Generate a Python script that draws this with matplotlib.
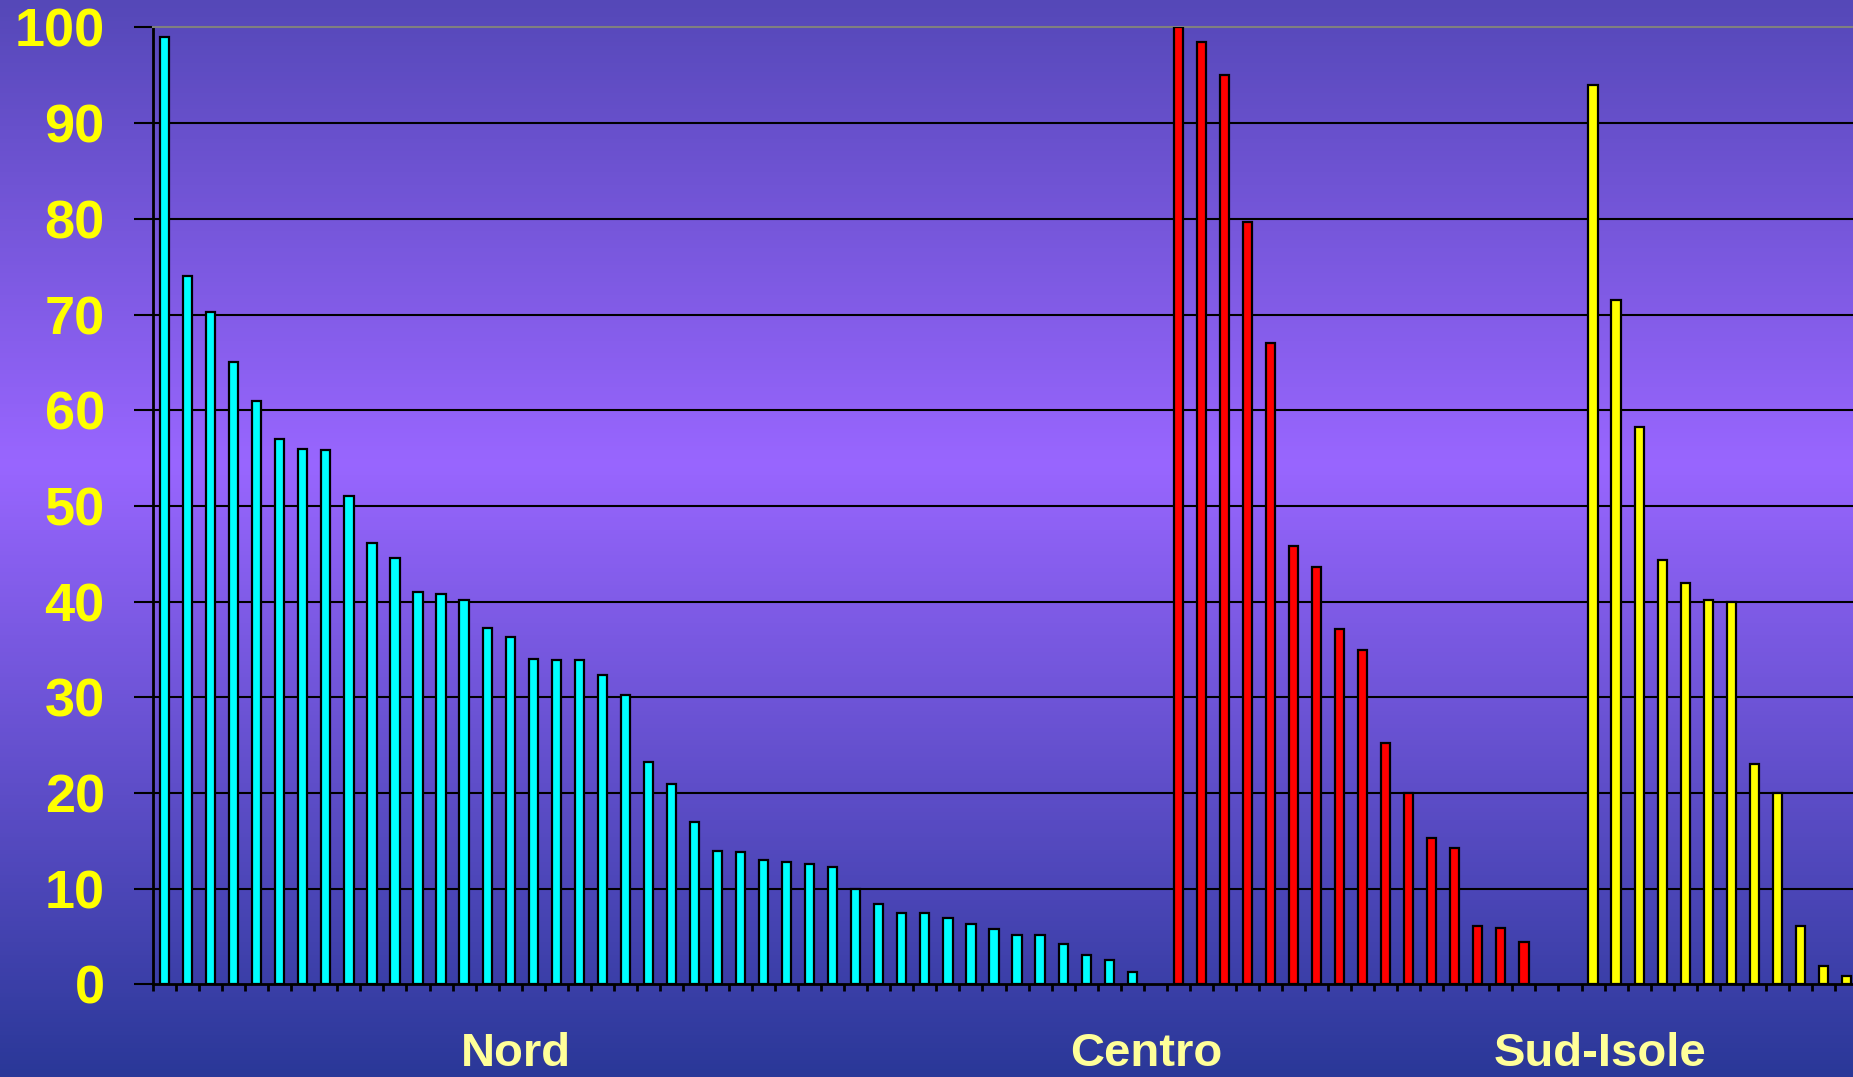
import numpy as np
import matplotlib.pyplot as plt
from matplotlib.colors import LinearSegmentedColormap

plt.rcParams['font.family'] = ['Liberation Sans', 'DejaVu Sans']

# values, sorted as in the picture
nord = [99, 74, 70.3, 65, 61, 57, 56, 55.8, 51, 46.1, 44.6, 41, 40.8, 40.2,
        37.3, 36.3, 34, 33.9, 33.9, 32.3, 30.2, 23.2, 21, 17, 14, 13.8, 13,
        12.8, 12.6, 12.3, 10, 8.4, 7.5, 7.5, 6.9, 6.3, 5.8, 5.2, 5.2, 4.2,
        3.1, 2.6, 1.3]
centro = [100, 98.5, 95, 79.7, 67, 45.8, 43.6, 37.1, 35, 25.2, 20, 15.3,
          14.3, 6.1, 5.9, 4.4]
sud_isole = [94, 71.5, 58.3, 44.4, 41.9, 40.2, 40, 23, 20, 6.1, 1.9, 0.9]
group_names = ["Nord", "Centro", "Sud-Isole"]
group_colors = ["#00ffff", "#ff0000", "#ffff00"]
y_ticks = list(range(0, 101, 10))

fig = plt.figure(figsize=(18.53, 10.77), dpi=100)

# background gradient
bg = fig.add_axes([0, 0, 1, 1])
cmap = LinearSegmentedColormap.from_list(
    'bg', [(0, '#2a3898'), (0.57, '#9966ff'), (1, '#5548b8')])
bg.imshow(np.linspace(0, 1, 256).reshape(-1, 1), aspect='auto', cmap=cmap,
          origin='lower', extent=[0, 1, 0, 1])
bg.axis('off')

ax = fig.add_axes([0.0826, 0.0859, 0.9201, 0.8886])
ax.patch.set_alpha(0)

# slot positions: one empty slot after Nord, two after Centro
x_nord = np.arange(len(nord))
x_centro = np.arange(len(centro)) + len(nord) + 1
x_sud = np.arange(len(sud_isole)) + x_centro[-1] + 3
n_slots = x_sud[-1] + 1

for xs, vals, c in zip([x_nord, x_centro, x_sud], [nord, centro, sud_isole], group_colors):
    ax.bar(xs, vals, width=0.4, color=c, edgecolor='black', linewidth=1.6, zorder=3)

ax.set_xlim(-0.5, n_slots - 0.5)
ax.set_ylim(0, 100)

ax.set_yticks(y_ticks)
for y in y_ticks[1:-1]:
    ax.axhline(y, color='black', linewidth=1.5, zorder=1)
ax.tick_params(axis='y', direction='out', length=13.7, width=1.5, colors='black',
               labelcolor='#ffff00', labelsize=39, pad=21)
for lab in ax.get_yticklabels():
    lab.set_fontweight('bold')

ax.set_xticks(np.arange(n_slots + 1) - 0.5)
ax.set_xticklabels([])
ax.tick_params(axis='x', direction='out', length=5, width=2, colors='black')

ax.spines['left'].set_linewidth(2)
ax.spines['bottom'].set_linewidth(2)
ax.spines['top'].set_color('#808080')
ax.spines['top'].set_linewidth(1.5)
ax.spines['right'].set_visible(False)

label_x = [516, 1146, 1600]
for name, lx in zip(group_names, label_x):
    fig.text(lx / 1853, 0.5 / 1077, name, ha='center', va='bottom', fontsize=34,
             fontweight='bold', color='#ffff99')

fig.savefig('out.png', dpi=100)
